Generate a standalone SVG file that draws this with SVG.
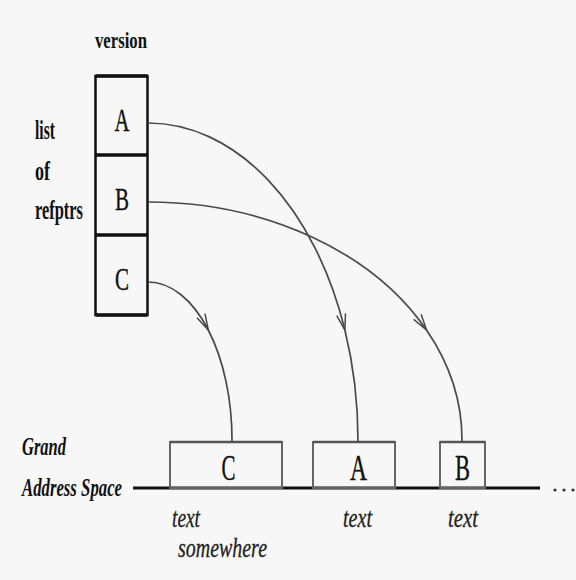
<svg xmlns="http://www.w3.org/2000/svg" width="576" height="580" viewBox="0 0 576 580">
  <style>
    .lbl { font-family: "Liberation Serif", "Times New Roman", serif; font-weight: bold; fill: #111; }
    .lblit { font-family: "Liberation Serif", "Times New Roman", serif; font-weight: bold; font-style: italic; fill: #111; }
    .let { font-family: "Liberation Serif", "Times New Roman", serif; fill: #111; text-anchor: middle; stroke: #111; stroke-width: 0.4; }
    .it { font-family: "Liberation Serif", "Times New Roman", serif; font-style: italic; fill: #222; stroke: #222; stroke-width: 0.3; }
    .vbox { fill: none; stroke: #111; stroke-width: 2.5; }
    .div { stroke: #111; stroke-width: 3.5; }
    .gbox { fill: none; stroke: #666; stroke-width: 2; }
    .gtop { stroke: #555; stroke-width: 2.5; }
    .arc { fill: none; stroke: #4a4a4a; stroke-width: 1.7; }
  </style>
  <defs>
    <marker id="vee" markerUnits="userSpaceOnUse" markerWidth="20" markerHeight="14" refX="0" refY="0" viewBox="-18 -7 20 14" orient="auto">
      <path d="M-16,-4.5 L0,0 L-16,4.5" fill="none" stroke="#4a4a4a" stroke-width="1.5"/>
    </marker>
  </defs>
  <rect width="576" height="580" fill="#f7f7f7"/>

  <!-- side labels -->
  <text class="lbl" x="95" y="48" font-size="24" textLength="52" lengthAdjust="spacingAndGlyphs">version</text>
  <text class="lbl" x="35" y="139" font-size="27" textLength="20" lengthAdjust="spacingAndGlyphs">list</text>
  <text class="lbl" x="35" y="180" font-size="27" textLength="15" lengthAdjust="spacingAndGlyphs">of</text>
  <text class="lbl" x="35" y="219" font-size="27" textLength="48" lengthAdjust="spacingAndGlyphs">refptrs</text>

  <!-- list of refptrs -->
  <g id="refptr-list">
    <rect class="vbox" x="95.5" y="76" width="52" height="239"/>
    <line class="div" x1="95.5" y1="155" x2="147.5" y2="155"/>
    <line class="div" x1="95.5" y1="235" x2="147.5" y2="235"/>
    <line class="div" x1="95.5" y1="315" x2="147.5" y2="315"/>
    <line class="div" x1="95.5" y1="76" x2="147.5" y2="76"/>
  </g>
  <g id="ref-A"><text class="let" x="122" y="131" font-size="31" textLength="15" lengthAdjust="spacingAndGlyphs">A</text></g>
  <g id="ref-B"><text class="let" x="122" y="210" font-size="31" textLength="14" lengthAdjust="spacingAndGlyphs">B</text></g>
  <g id="ref-C"><text class="let" x="122" y="290" font-size="31" textLength="14" lengthAdjust="spacingAndGlyphs">C</text></g>

  <!-- address space -->
  <text class="lblit" x="22" y="455" font-size="25" textLength="44" lengthAdjust="spacingAndGlyphs">Grand</text>
  <text class="lblit" x="22" y="496" font-size="25" textLength="100" lengthAdjust="spacingAndGlyphs">Address Space</text>
  <line x1="133" y1="488" x2="540" y2="488" stroke="#111" stroke-width="3"/>
  <g fill="#333">
    <circle cx="555" cy="490" r="1.6"/>
    <circle cx="564" cy="490" r="1.6"/>
    <circle cx="573" cy="490" r="1.6"/>
  </g>

  <g id="space-C">
    <rect class="gbox" x="170" y="442" width="112" height="46"/>
    <line class="gtop" x1="170" y1="442" x2="282" y2="442"/>
    <text class="let" x="228.5" y="480" font-size="35" textLength="14" lengthAdjust="spacingAndGlyphs">C</text>
  </g>
  <g id="space-A">
    <rect class="gbox" x="313" y="442" width="82" height="46"/>
    <line class="gtop" x1="313" y1="442" x2="395" y2="442"/>
    <text class="let" x="358.5" y="480" font-size="35" textLength="17" lengthAdjust="spacingAndGlyphs">A</text>
  </g>
  <g id="space-B">
    <rect class="gbox" x="440" y="442" width="45" height="46"/>
    <line class="gtop" x1="440" y1="442" x2="485" y2="442"/>
    <text class="let" x="462.5" y="480" font-size="35" textLength="15" lengthAdjust="spacingAndGlyphs">B</text>
  </g>

  <text class="it" x="172" y="527" font-size="27" textLength="28" lengthAdjust="spacingAndGlyphs">text</text>
  <text class="it" x="178" y="557" font-size="27" textLength="89" lengthAdjust="spacingAndGlyphs">somewhere</text>
  <text class="it" x="343" y="527" font-size="27" textLength="29" lengthAdjust="spacingAndGlyphs">text</text>
  <text class="it" x="448" y="527" font-size="27" textLength="30" lengthAdjust="spacingAndGlyphs">text</text>

  <!-- connectors -->
  <g id="connectors">
    <path class="arc" marker-end="url(#vee)" d="M148,123 A210,317 0 0 1 344.9,330"/>
    <path class="arc" d="M344.9,330 A210,317 0 0 1 358,441"/>
    <path class="arc" marker-end="url(#vee)" d="M148,202 A314,238 0 0 1 426.5,330"/>
    <path class="arc" d="M426.5,330 A314,238 0 0 1 462,441"/>
    <path class="arc" marker-end="url(#vee)" d="M148,282 A84,158 0 0 1 208.3,330"/>
    <path class="arc" d="M208.3,330 A84,158 0 0 1 232,441"/>
  </g>
</svg>
